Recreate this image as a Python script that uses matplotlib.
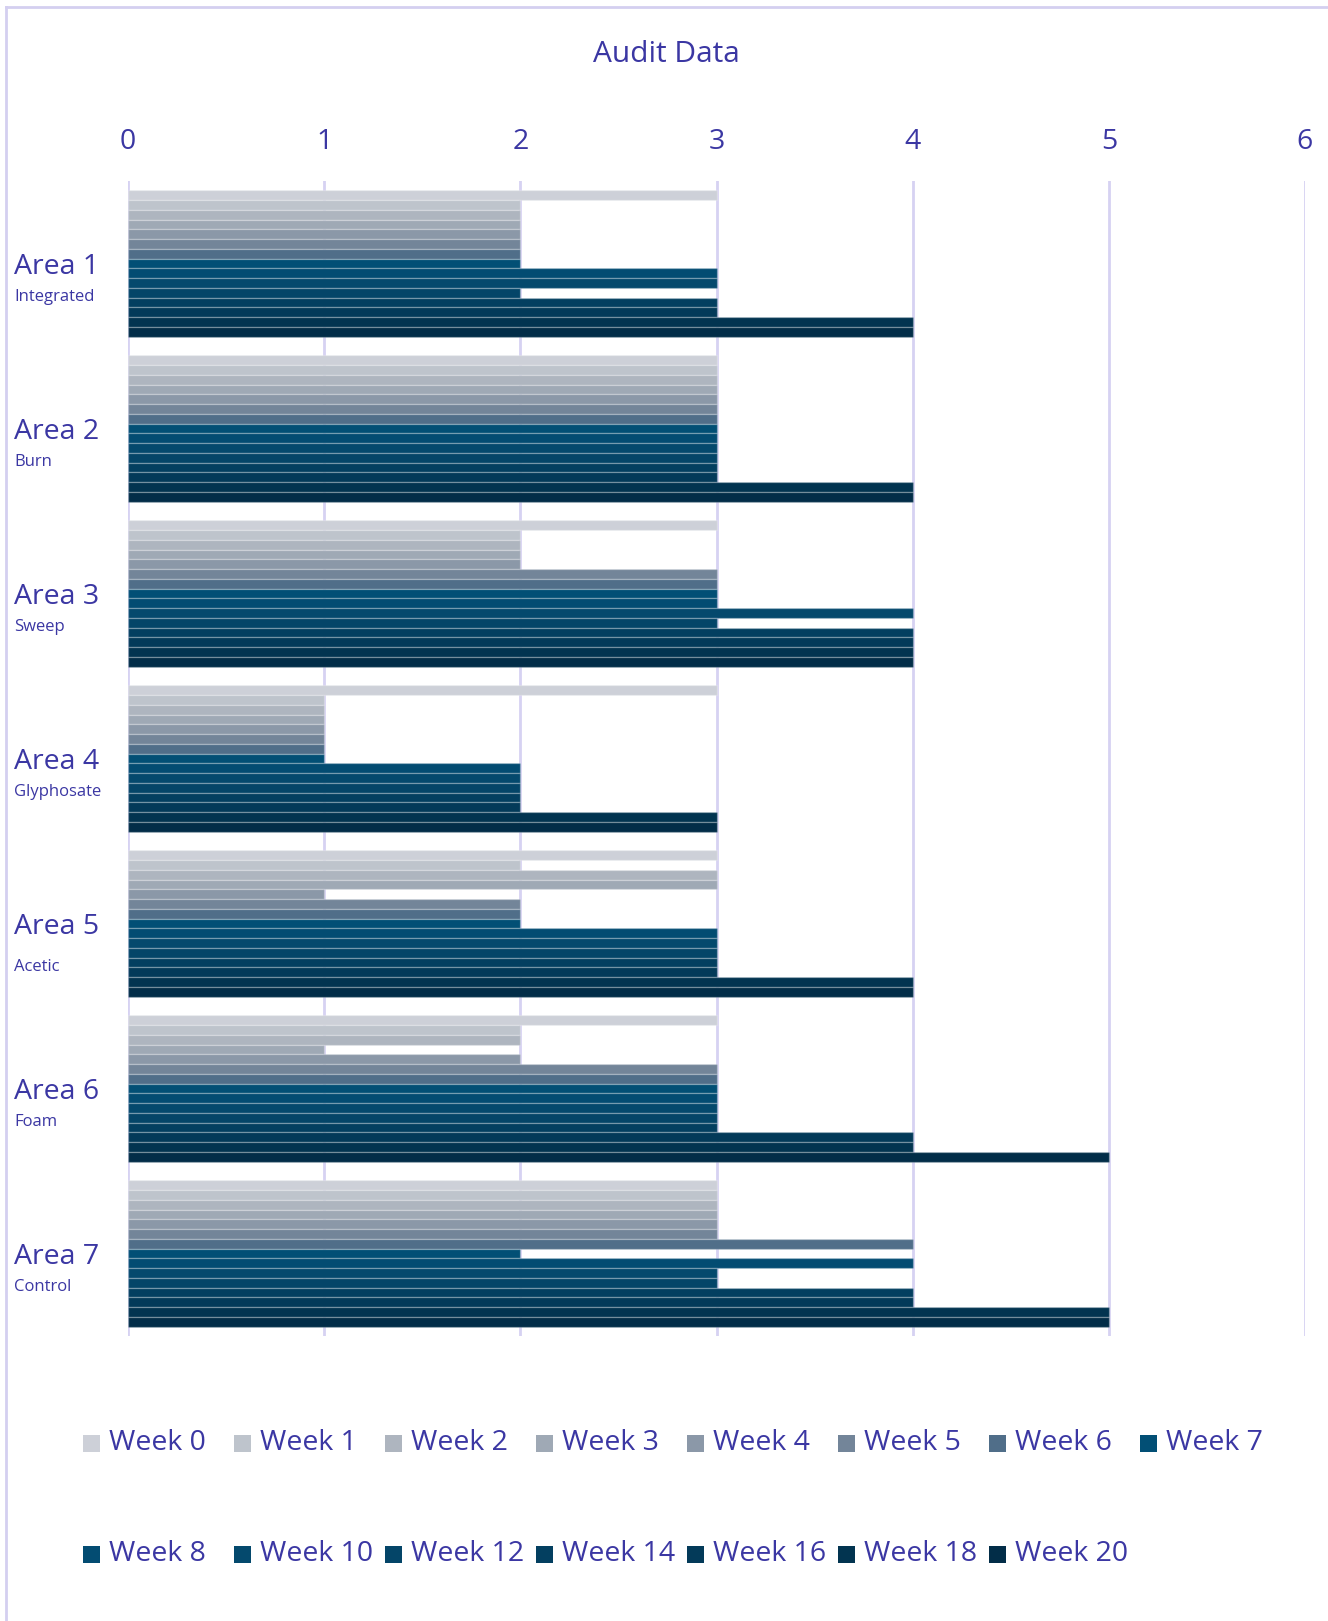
import matplotlib
matplotlib.use("Agg")
import matplotlib.pyplot as plt
from matplotlib.patches import Rectangle
import matplotlib.transforms as mtransforms
import numpy as np

plt.rcParams['font.family'] = ['Open Sans', 'DejaVu Sans']

# ---- data ----
areas = ["Area 1", "Area 2", "Area 3", "Area 4", "Area 5", "Area 6", "Area 7"]
subtitles = ["Integrated", "Burn", "Sweep", "Glyphosate", "Acetic", "Foam", "Control"]
weeks = ["Week 0", "Week 1", "Week 2", "Week 3", "Week 4", "Week 5", "Week 6", "Week 7",
         "Week 8", "Week 10", "Week 12", "Week 14", "Week 16", "Week 18", "Week 20"]

# values per week, across Area 1..7
week0  = [3, 3, 3, 3, 3, 3, 3]
week1  = [2, 3, 2, 1, 2, 2, 3]
week2  = [2, 3, 2, 1, 3, 2, 3]
week3  = [2, 3, 2, 1, 3, 1, 3]
week4  = [2, 3, 2, 1, 1, 2, 3]
week5  = [2, 3, 3, 1, 2, 3, 3]
week6  = [2, 3, 3, 1, 2, 3, 4]
week7  = [2, 3, 3, 1, 2, 3, 2]
week8  = [3, 3, 3, 2, 3, 3, 4]
week10 = [3, 3, 4, 2, 3, 3, 3]
week12 = [2, 3, 3, 2, 3, 3, 3]
week14 = [3, 3, 4, 2, 3, 3, 4]
week16 = [3, 3, 4, 2, 3, 4, 4]
week18 = [4, 4, 4, 3, 4, 4, 5]
week20 = [4, 4, 4, 3, 4, 5, 5]
series = [week0, week1, week2, week3, week4, week5, week6, week7,
          week8, week10, week12, week14, week16, week18, week20]

colors = ["#CDD0D8", "#BEC4CC", "#AEB5BF", "#9FA9B5", "#8B98A8", "#738599", "#506E89",
          "#024F75", "#034C72", "#04496D", "#044568", "#033F60", "#033A59", "#023450",
          "#022D48"]

text_color = "#3B37A3"
grid_color = "#D6D2F2"

W, H = 1328, 1621
fig = plt.figure(figsize=(W / 100, H / 100), dpi=100)

# figure border (top and left)
fig.add_artist(plt.Line2D([6 / W, 6 / W], [0, 1 - 7 / H], transform=fig.transFigure,
                          color="#D4CFF0", lw=2))
fig.add_artist(plt.Line2D([6 / W, 1], [1 - 7 / H, 1 - 7 / H], transform=fig.transFigure,
                          color="#D4CFF0", lw=2))

ax = fig.add_axes([128 / W, 1 - 1336 / H, (1305 - 128) / W, (1336 - 181) / H])

n_series = len(series)
group_frac = 142 / 160
h = group_frac / n_series
y_base = np.arange(len(areas))
for j, vals in enumerate(series):
    ys = y_base + (j - (n_series - 1) / 2) * h
    ax.barh(ys, vals, height=h, color=colors[j], edgecolor=(1, 1, 1, 0.22),
            linewidth=1.0, zorder=3, label=weeks[j])

ax.set_xlim(0, 6)
ax.set_ylim(len(areas) - 0.5, -0.5)
ax.set_xticks(range(0, 7))
ax.xaxis.tick_top()
ax.tick_params(axis='x', length=0, pad=18, labelsize=20.5, labelcolor=text_color)
ax.set_yticks([])
for s in ax.spines.values():
    s.set_visible(False)
ax.grid(axis='x', color=grid_color, lw=2, zorder=0)
ax.set_axisbelow(True)

# area labels
trans = mtransforms.blended_transform_factory(fig.transFigure, ax.transData)
for i, (a, s) in enumerate(zip(areas, subtitles)):
    ax.text(14 / W, i + 0.02, a, transform=trans, fontsize=20.5, color=text_color,
            ha='left', va='center')
    off = 0.265 if s == "Acetic" else 0.205
    ax.text(14 / W, i + off, s, transform=trans, fontsize=12, color=text_color,
            ha='left', va='center')

# title
fig.text(0.502, 1 - 54 / H, "Audit Data", fontsize=21.5, color=text_color,
         ha='center', va='center')

# legend (row-major, equal spacing)
step = 151
msize = 17
for k, (name, c) in enumerate(zip(weeks, colors)):
    row, col = divmod(k, 8)
    x0 = 83 + col * step
    yc = 1443 if row == 0 else 1554
    fig.add_artist(Rectangle((x0 / W, 1 - (yc + msize / 2) / H), msize / W, msize / H,
                             transform=fig.transFigure, facecolor=c, edgecolor='none'))
    fig.text((x0 + 26) / W, 1 - yc / H, name, fontsize=20.5, color=text_color,
             ha='left', va='center')

fig.savefig("out.png", dpi=100, facecolor="white")
